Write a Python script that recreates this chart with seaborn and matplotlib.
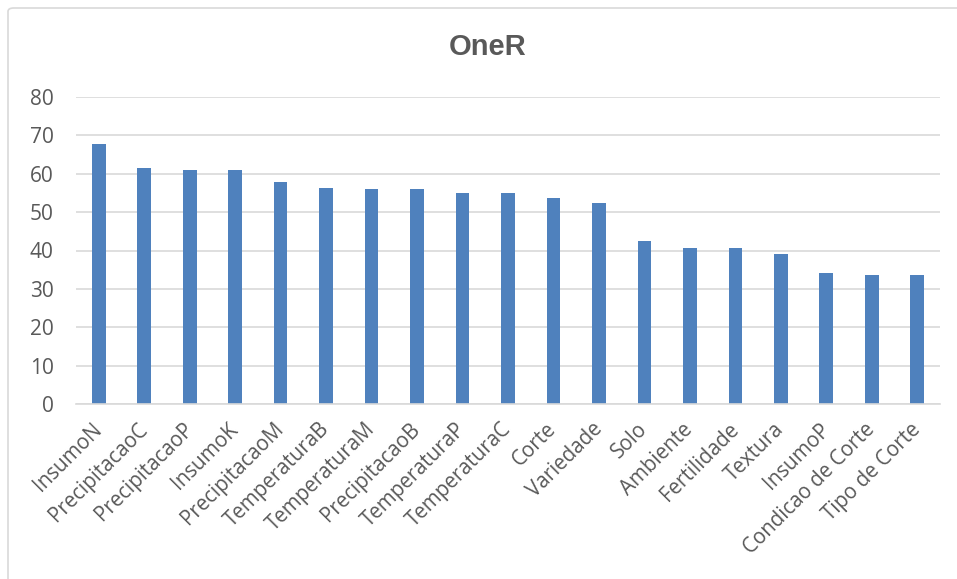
import matplotlib
matplotlib.use("Agg")
import matplotlib.pyplot as plt
from matplotlib.patches import FancyBboxPatch
import seaborn as sns
import pandas as pd

# Attribute ranking scores from the OneR evaluator
attributes = [
    "InsumoN", "PrecipitacaoC", "PrecipitacaoP", "InsumoK", "PrecipitacaoM",
    "TemperaturaB", "TemperaturaM", "PrecipitacaoB", "TemperaturaP",
    "TemperaturaC", "Corte", "Variedade", "Solo", "Ambiente", "Fertilidade",
    "Textura", "InsumoP", "Condicao de Corte", "Tipo de Corte",
]
scores = [
    67.7, 61.6, 61.1, 60.9, 57.8, 56.3, 56.1, 56.1, 54.9,
    54.9, 53.6, 52.5, 42.5, 40.6, 40.6, 39.0, 34.2, 33.7, 33.7,
]
y_ticks = [0, 10, 20, 30, 40, 50, 60, 70, 80]
title = "OneR"

df = pd.DataFrame({"attribute": attributes, "score": scores})

sns.set_theme(style="white")
plt.rcParams["font.family"] = ["Open Sans", "DejaVu Sans"]

text_gray = "#595959"
grid_gray = "#D9D9D9"
bar_blue = "#4F81BD"

W, H = 957, 579
fig = plt.figure(figsize=(W / 100, H / 100), dpi=100)
fig.patch.set_facecolor("white")

# Chart area frame (runs off the right and bottom edges)
frame = FancyBboxPatch((8 / W, -20 / H), 980 / W, (579 - 8 + 20) / H,
                       boxstyle="round,pad=0,rounding_size=0.006",
                       transform=fig.transFigure, facecolor="none",
                       edgecolor="#D9D9D9", linewidth=1.2, zorder=0)
fig.patches.append(frame)

ax = fig.add_axes([76 / W, 1 - 404 / H, (940 - 76) / W, (404 - 97) / H])
sns.barplot(data=df, x="attribute", y="score", color=bar_blue,
            saturation=1, width=0.3, ax=ax, edgecolor="none")

ax.set_ylim(0, 80)
ax.set_xlim(-0.5, len(attributes) - 0.5)
ax.set_yticks(y_ticks)
ax.set_yticklabels([str(t) for t in y_ticks])
ax.yaxis.grid(True, color=grid_gray, linewidth=1.2)
ax.set_axisbelow(True)
for s in ["top", "right", "left"]:
    ax.spines[s].set_visible(False)
ax.spines["bottom"].set_color(grid_gray)
ax.spines["bottom"].set_linewidth(1.2)
ax.set_xlabel("")
ax.set_ylabel("")

ax.tick_params(axis="y", length=0, pad=16, labelsize=15, labelcolor=text_gray)
ax.tick_params(axis="x", length=0, pad=16, labelsize=14.8, labelcolor=text_gray)
plt.setp(ax.get_xticklabels(), rotation=45, ha="right", va="center",
         rotation_mode="anchor")

fig.text(488 / W, 1 - 47 / H, title, ha="center", va="center",
         fontsize=21, fontweight="bold", color=text_gray,
         family=["Liberation Sans", "DejaVu Sans"])

fig.savefig("out.png", dpi=100, facecolor="white")
